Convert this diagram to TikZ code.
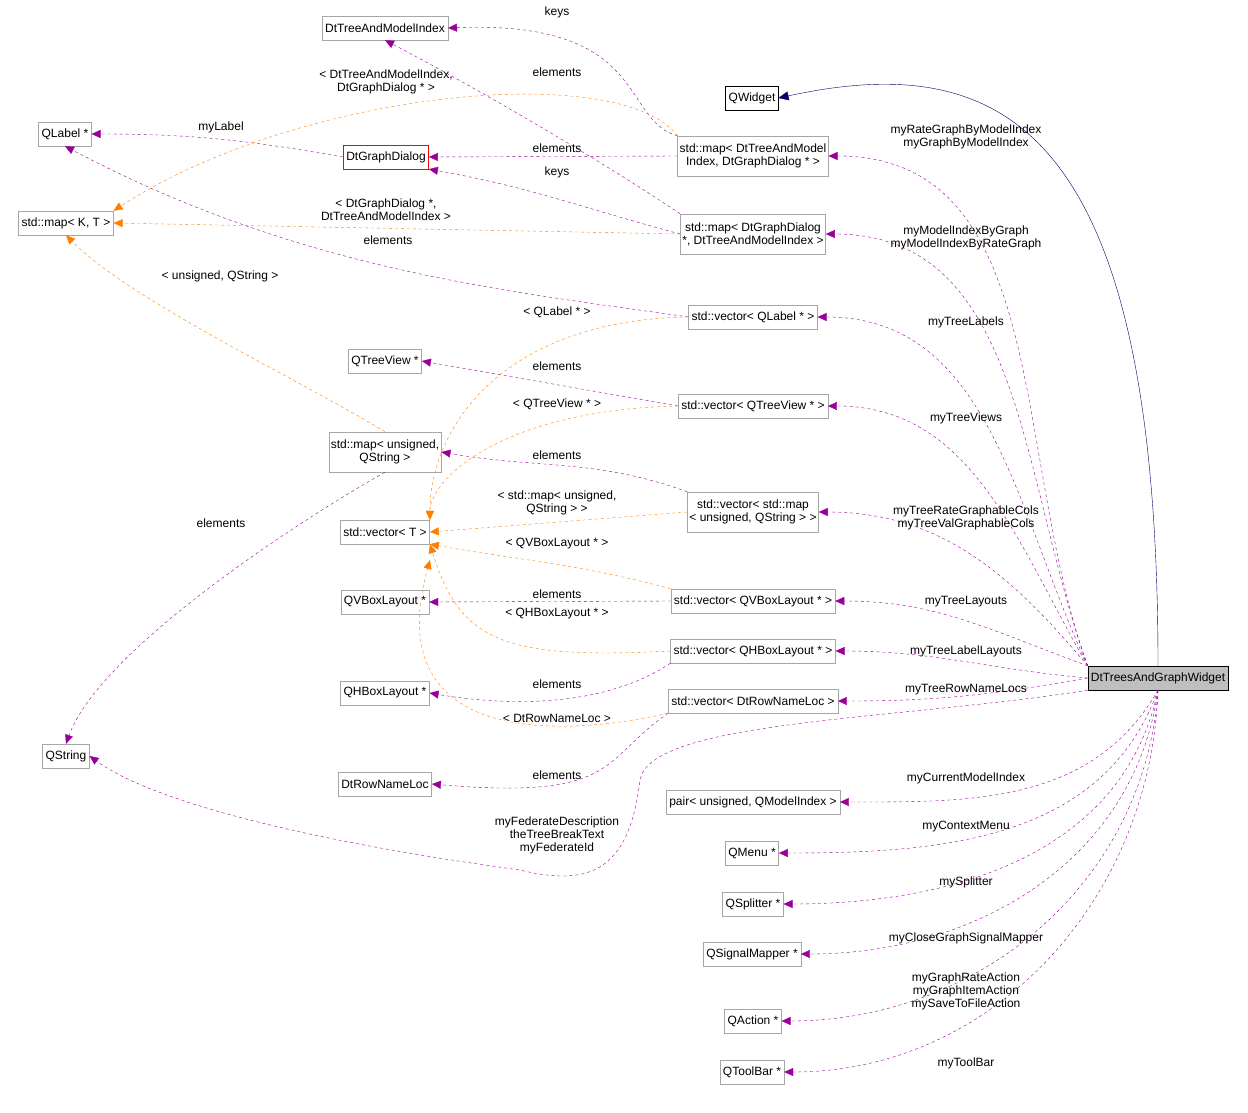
\documentclass[tikz,border=0pt]{standalone}
\usepackage{fontspec}
\setmainfont{Liberation Sans}
\usetikzlibrary{arrows.meta}
\tikzset{
  cls/.style={draw=black!35,fill=white,inner sep=3pt,minimum height=24pt,align=center,font=\fontsize{12}{13}\selectfont},
  lbl/.style={align=center,font=\fontsize{12}{13}\selectfont},
  member/.style={draw=violet!80!magenta,dashed,-{Triangle[length=9pt,width=8pt]}},
  tmpl/.style={draw=orange,dashed,-{Triangle[length=9pt,width=8pt,fill=orange]}},
  inherit/.style={draw=blue!40!black,-{Triangle[length=10pt,width=9pt,fill=blue!40!black]}},
}
\begin{document}
\begin{tikzpicture}[x=1pt,y=-1pt]
\useasboundingbox (0,0) rectangle (1248,1113);
% classes
\node[cls,fill=black!25,draw=black] (widget) at (1158,678) {DtTreesAndGraphWidget};
\node[cls,draw=black] (qwidget) at (752,98) {QWidget};
\node[cls] (treeidx) at (385,28) {DtTreeAndModelIndex};
\node[cls] (qlabel) at (65,134) {QLabel *};
\node[cls,draw=red] (dialog) at (386,157) {DtGraphDialog};
\node[cls] (mapkt) at (66,223) {std::map\textless{} K, T \textgreater};
\node[cls,minimum height=40pt,inner sep=2pt] (mapidx) at (753,156) {std::map\textless{} DtTreeAndModel\\Index, DtGraphDialog * \textgreater};
\node[cls,minimum height=40pt,inner sep=2pt] (mapdlg) at (753,234) {std::map\textless{} DtGraphDialog\\*, DtTreeAndModelIndex \textgreater};
\node[cls] (veclabel) at (753,317) {std::vector\textless{} QLabel * \textgreater};
\node[cls] (qtreeview) at (385,361) {QTreeView *};
\node[cls] (vecview) at (753,406) {std::vector\textless{} QTreeView * \textgreater};
\node[cls,minimum height=40pt,inner sep=2pt] (mapuq) at (385,452) {std::map\textless{} unsigned,\\QString \textgreater};
\node[cls,minimum height=40pt,inner sep=2pt] (vecmap) at (753,512) {std::vector\textless{} std::map\\\textless{} unsigned, QString \textgreater{} \textgreater};
\node[cls] (vect) at (385,532) {std::vector\textless{} T \textgreater};
\node[cls] (qvbox) at (385,602) {QVBoxLayout *};
\node[cls] (vecvbox) at (753,601) {std::vector\textless{} QVBoxLayout * \textgreater};
\node[cls] (vechbox) at (753,651) {std::vector\textless{} QHBoxLayout * \textgreater};
\node[cls] (qhbox) at (385,693) {QHBoxLayout *};
\node[cls] (vecrow) at (753,701) {std::vector\textless{} DtRowNameLoc \textgreater};
\node[cls] (qstring) at (66,756) {QString};
\node[cls] (rowloc) at (385,784) {DtRowNameLoc};
\node[cls] (pair) at (753,802) {pair\textless{} unsigned, QModelIndex \textgreater};
\node[cls] (qmenu) at (752,853) {QMenu *};
\node[cls] (qsplit) at (753,904) {QSplitter *};
\node[cls] (qmapper) at (752,954) {QSignalMapper *};
\node[cls] (qaction) at (753,1021) {QAction *};
\node[cls] (qtool) at (752,1072) {QToolBar *};
% inheritance
\draw[inherit] (widget.north) .. controls (1158,120) and (1000,50) .. (qwidget.east);
% members of the widget
\draw[member] (widget.north west) to[out=110,in=0] (mapidx.east);
\draw[member] (widget.north west) to[out=110,in=0] (mapdlg.east);
\draw[member] (widget.north west) to[out=115,in=0] (veclabel.east);
\draw[member] (widget.north west) to[out=120,in=0] (vecview.east);
\draw[member] (widget.north west) to[out=130,in=0] (vecmap.east);
\draw[member] (widget.north west) to[out=160,in=0] (vecvbox.east);
\draw[member] (widget.west) to[out=175,in=0] (vechbox.east);
\draw[member] (widget.west) to[out=190,in=0] (vecrow.east);
\draw[member] (widget.south west) .. controls (900,720) and (650,720) .. (640,780) .. controls (630,860) and (600,890) .. (520,870) .. controls (300,840) and (150,800) .. (qstring.east);
\draw[member] (widget.south) to[out=240,in=0] (pair.east);
\draw[member] (widget.south) to[out=250,in=0] (qmenu.east);
\draw[member] (widget.south) to[out=258,in=0] (qsplit.east);
\draw[member] (widget.south) to[out=262,in=0] (qmapper.east);
\draw[member] (widget.south) to[out=266,in=0] (qaction.east);
\draw[member] (widget.south) to[out=268,in=0] (qtool.east);
\node[lbl] at (966,137) {myRateGraphByModelIndex\\myGraphByModelIndex};
\node[lbl] at (966,238) {myModelIndexByGraph\\myModelIndexByRateGraph};
\node[lbl] at (966,322) {myTreeLabels};
\node[lbl] at (966,418) {myTreeViews};
\node[lbl] at (966,518) {myTreeRateGraphableCols\\myTreeValGraphableCols};
\node[lbl] at (966,602) {myTreeLayouts};
\node[lbl] at (966,651) {myTreeLabelLayouts};
\node[lbl] at (966,690) {myTreeRowNameLocs};
\node[lbl] at (557,835) {myFederateDescription\\theTreeBreakText\\myFederateId};
\node[lbl] at (966,778) {myCurrentModelIndex};
\node[lbl] at (966,827) {myContextMenu};
\node[lbl] at (966,882) {mySplitter};
\node[lbl] at (966,938) {myCloseGraphSignalMapper};
\node[lbl] at (966,991) {myGraphRateAction\\myGraphItemAction\\mySaveToFileAction};
\node[lbl] at (966,1063) {myToolBar};
% element and key edges
\draw[member] (mapidx.north west) .. controls (620,120) and (650,20) .. (treeidx.east);
\draw[member] (mapidx.west) -- (dialog.east);
\draw[member] (mapdlg.west) to[out=165,in=-10] (dialog.south east);
\draw[member] (mapdlg.north west) .. controls (600,160) and (480,90) .. (treeidx.south);
\draw[member] (dialog.west) to[out=170,in=0] (qlabel.east);
\draw[member] (veclabel.west) .. controls (500,290) and (300,270) .. (qlabel.south);
\draw[member] (vecview.west) to[out=170,in=-10] (qtreeview.east);
\draw[member] (vecmap.north west) to[out=160,in=-10] (mapuq.east);
\draw[member] (vecvbox.west) -- (qvbox.east);
\draw[member] (vechbox.south west) .. controls (600,710) and (500,705) .. (qhbox.east);
\draw[member] (vecrow.south west) .. controls (600,760) and (620,800) .. (rowloc.east);
\draw[member] (mapuq.south) .. controls (300,520) and (100,650) .. (qstring.north);
\node[lbl] at (557,12) {keys};
\node[lbl] at (557,148) {elements};
\node[lbl] at (557,172) {keys};
\node[lbl] at (557,72) {elements};
\node[lbl] at (221,127) {myLabel};
\node[lbl] at (388,240) {elements};
\node[lbl] at (557,366) {elements};
\node[lbl] at (557,455) {elements};
\node[lbl] at (557,594) {elements};
\node[lbl] at (557,684) {elements};
\node[lbl] at (557,775) {elements};
\node[lbl] at (221,523) {elements};
% template instances
\draw[tmpl] (mapidx.north west) .. controls (620,60) and (300,90) .. (mapkt.north east);
\draw[tmpl] (mapdlg.west) -- (mapkt.east);
\draw[tmpl] (mapuq.north) .. controls (300,380) and (130,300) .. (mapkt.south);
\draw[tmpl] (veclabel.west) .. controls (500,320) and (430,430) .. (vect.north east);
\draw[tmpl] (vecview.west) .. controls (500,410) and (430,480) .. (vect.north east);
\draw[tmpl] (vecmap.west) -- (vect.east);
\draw[tmpl] (vecvbox.north west) to[out=165,in=-10] (vect.south east);
\draw[tmpl] (vechbox.west) .. controls (500,660) and (460,640) .. (vect.south east);
\draw[tmpl] (vecrow.south west) .. controls (550,740) and (380,740) .. (430,560);
\node[lbl] at (386,82) {\textless{} DtTreeAndModelIndex,\\DtGraphDialog * \textgreater};
\node[lbl] at (386,210) {\textless{} DtGraphDialog *,\\DtTreeAndModelIndex \textgreater};
\node[lbl] at (220,276) {\textless{} unsigned, QString \textgreater};
\node[lbl] at (557,312) {\textless{} QLabel * \textgreater};
\node[lbl] at (557,404) {\textless{} QTreeView * \textgreater};
\node[lbl] at (557,503) {\textless{} std::map\textless{} unsigned,\\QString \textgreater{} \textgreater};
\node[lbl] at (557,544) {\textless{} QVBoxLayout * \textgreater};
\node[lbl] at (557,614) {\textless{} QHBoxLayout * \textgreater};
\node[lbl] at (557,718) {\textless{} DtRowNameLoc \textgreater};
\end{tikzpicture}
\end{document}
